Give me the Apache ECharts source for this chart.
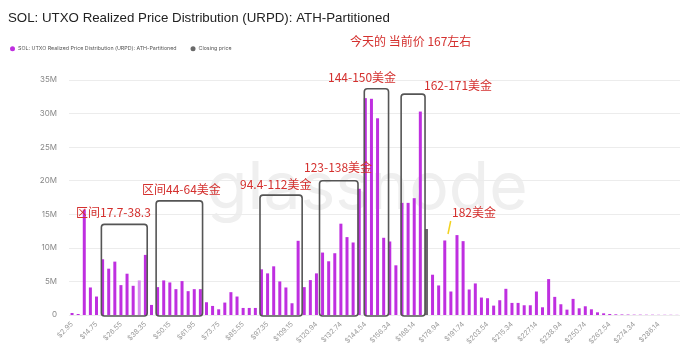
<!DOCTYPE html>
<html>
<head>
<meta charset="utf-8">
<script src="https://cdn.jsdelivr.net/npm/echarts@6/dist/echarts.min.js"></script>
<style>
  html, body { margin: 0; padding: 0; background: #fff; }
  #main { width: 680px; height: 354px; }
</style>
</head>
<body>
<div id="main"></div>
<script>
// URPD: 100 price bins up to ATH, bin width in USD
const binWidth = 2.94987
// supply per bin, in millions of SOL
const urpdValues = [
  0.3, 0.15, 15.7, 4.1, 2.75, 8.3, 6.9, 7.95, 4.45, 6.15,
  4.35, 5.15, 8.95, 1.5, 4.15, 5.15, 4.85, 3.85, 5.05, 3.55,
  3.85, 3.85, 1.9, 1.35, 0.85, 1.85, 3.4, 2.75, 1.05, 1.05,
  1.05, 6.8, 6.2, 7.25, 5.0, 4.1, 1.75, 11.05, 4.15, 5.2,
  6.2, 9.3, 8.0, 9.2, 13.6, 11.6, 10.8, 18.8, 32.3, 32.2,
  29.3, 11.5, 10.95, 7.4, 16.7, 16.7, 17.4, 30.3, 12.8, 6.0,
  4.4, 11.1, 3.5, 11.9, 11.0, 3.8, 4.7, 2.6, 2.5, 1.4,
  2.2, 3.9, 1.8, 1.8, 1.45, 1.45, 3.5, 1.15, 5.35, 2.7,
  1.6, 0.8, 2.4, 1.0, 1.3, 0.85, 0.4, 0.25, 0.15, 0.1,
  0.08, 0.07, 0.05, 0.05, 0.04, 0.04, 0.03, 0.03, 0.03, 0.02
]
const closingBin = 59 // bin holding the closing price (1-based)
const yTicks = [0, 5, 10, 15, 20, 25, 30, 35]
// hand-drawn boxes: [from bin, to bin, top (M)]
const boxRanges = [
  [5.8, 13.3, 13.5],
  [14.76, 22.36, 17.0],
  [31.76, 38.66, 17.85],
  [41.5, 47.8, 20.0],
  [48.83, 52.8, 33.7],
  [54.86, 58.77, 32.9]
]

const categories = urpdValues.map((v, i) => '$' + ((i + 1) * binWidth).toFixed(2))
const closingData = urpdValues.map((v, i) => (i + 1 === closingBin ? v : null))

const myChart = echarts.init(document.getElementById('main'))
const red = '#d4302e'
const purple = '#bf2fe0'
const font = 'Inter, "Noto Sans CJK SC", sans-serif'
const urpdName = 'SOL: UTXO Realized Price Distribution (URPD): ATH-Partitioned'

const note = (text, x, y) => ({
  type: 'text', x: x, y: y, z: 10,
  style: { text: text, fill: red, fontSize: 12, fontFamily: '"Noto Sans CJK SC", sans-serif', verticalAlign: 'middle' }
})

const option = {
  animation: false,
  title: {
    text: urpdName,
    left: 3,
    top: 7,
    textStyle: { fontSize: 13.3, fontWeight: 400, color: '#222', fontFamily: '"Liberation Sans", Arial, sans-serif' }
  },
  legend: {
    left: 5,
    top: 41,
    icon: 'circle',
    itemWidth: 5,
    itemHeight: 5,
    itemGap: 14,
    textStyle: { fontSize: 5.3, color: '#555', fontFamily: font, padding: [0, 0, 0, -2] },
    data: [
      { name: urpdName, itemStyle: { color: purple } },
      { name: 'Closing price', itemStyle: { color: '#6a6a6a' } }
    ]
  },
  grid: { left: 69, right: -3, top: 80, bottom: 39 },
  xAxis: [
    {
      type: 'category',
      data: categories,
      axisLine: { show: false },
      axisTick: { show: false },
      axisLabel: { interval: 3, rotate: 45, fontSize: 7, color: '#999', margin: 8, fontFamily: font }
    },
    { type: 'value', min: 0.5, max: 100.5, show: false }
  ],
  yAxis: {
    type: 'value',
    min: yTicks[0],
    max: yTicks[yTicks.length - 1],
    interval: 5,
    axisLine: { show: false },
    axisTick: { show: false },
    axisLabel: { fontSize: 8, color: '#888', margin: 12, fontFamily: font, formatter: v => (v === 0 ? '0' : v + 'M') },
    splitLine: { lineStyle: { color: '#ececec', width: 1 } }
  },
  series: [
    {
      name: urpdName,
      type: 'bar',
      barWidth: 3,
      z: 2,
      itemStyle: { color: p => (p.dataIndex === 11 ? '#d98af0' : purple) },
      data: urpdValues
    },
    {
      name: 'Closing price',
      type: 'bar',
      barWidth: 3,
      barGap: '-100%',
      z: 3,
      itemStyle: { color: '#6a6a6a' },
      data: closingData
    }
  ],
  graphic: [
    {
      type: 'text', left: 207, top: 156, z: -1, silent: true,
      style: { text: 'glassnode', fontSize: 66, fontFamily: 'Inter, sans-serif', fill: '#efefef' }
    },
    note('今天的 当前价 167左右', 350, 41),
    note('144-150美金', 328, 77),
    note('162-171美金', 424, 85),
    note('123-138美金', 304, 167),
    note('94.4-112美金', 240, 184),
    note('区间44-64美金', 142, 189),
    note('区间17.7-38.3', 76, 212),
    note('182美金', 452, 212),
    { type: 'line', z: 10, shape: { x1: 450.7, y1: 221, x2: 448, y2: 234 }, style: { stroke: '#f2d21e', lineWidth: 1.5 } }
  ]
}
myChart.setOption(option)

// outline boxes placed through the axes' own scales
const boxes = boxRanges.map(b => {
  const x1 = myChart.convertToPixel({ xAxisIndex: 1 }, b[0])
  const x2 = myChart.convertToPixel({ xAxisIndex: 1 }, b[1])
  const y1 = myChart.convertToPixel({ yAxisIndex: 0 }, b[2])
  const y0 = myChart.convertToPixel({ yAxisIndex: 0 }, 0)
  return {
    type: 'rect', z: 5,
    shape: { x: x1, y: y1, width: x2 - x1, height: y0 - y1 + 1, r: 3 },
    style: { fill: 'none', stroke: '#555', lineWidth: 1.6 }
  }
})
myChart.setOption({ graphic: option.graphic.concat(boxes) })
</script>
</body>
</html>
